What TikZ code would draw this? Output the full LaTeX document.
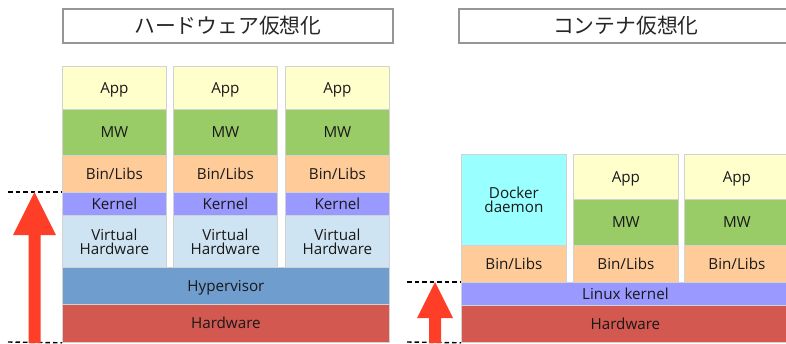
\documentclass[tikz,border=0pt]{standalone}
\usepackage{fontspec}
\setmainfont{Open Sans}
\newfontfamily\jpfont{Noto Sans CJK JP}
\definecolor{appc}{RGB}{255,255,204}
\definecolor{mwc}{RGB}{153,204,102}
\definecolor{binc}{RGB}{255,204,153}
\definecolor{kerc}{RGB}{153,153,255}
\definecolor{vhwc}{RGB}{207,228,242}
\definecolor{hypc}{RGB}{111,158,206}
\definecolor{hwc}{RGB}{210,88,80}
\definecolor{dockc}{RGB}{153,255,255}
\definecolor{arrc}{RGB}{255,62,40}
\definecolor{bordc}{RGB}{210,210,210}
\definecolor{titlebord}{RGB}{150,150,150}
\definecolor{txtc}{RGB}{25,25,25}
\tikzset{
  layer/.style={draw=bordc, line width=0.8pt, inner sep=0pt, align=center,
    anchor=north west, text=txtc, font=\fontsize{15.2}{14}\selectfont},
  oneline/.style={text height=11pt, text depth=0pt},
  titlebox/.style={draw=titlebord, line width=1.6pt, inner sep=0pt, anchor=north west,
    font=\jpfont\fontsize{20.8}{21}\selectfont, text=black!85},
  dashline/.style={line width=1.4pt, dash pattern=on 4.5pt off 3pt},
  bigarrow/.style={fill=arrc, draw=none}
}
% name, style, x1, y1, x2, y2, text
\newcommand\lyr[7]{%
  \pgfmathsetmacro\lw{#5-#3}\pgfmathsetmacro\lh{#6-#4}%
  \node[#2, minimum width=\lw pt, minimum height=\lh pt] (#1) at (#3,#4) {#7};}
\begin{document}
\begin{tikzpicture}[x=1pt,y=-1pt]
\useasboundingbox (0,0) rectangle (786,343);
% titles
\lyr{t1}{titlebox}{62}{8}{392}{42}{ハードウェア仮想化}
\lyr{t2}{titlebox}{458}{8}{792}{42}{コンテナ仮想化}
% left columns
\foreach \i/\xa/\xb in {1/62/166, 2/173/277, 3/285/389}{
  \lyr{app\i}{layer,oneline,fill=appc}{\xa}{66}{\xb}{109}{App}
  \lyr{mw\i}{layer,oneline,fill=mwc}{\xa}{109}{\xb}{155}{MW}
  \lyr{bin\i}{layer,oneline,fill=binc}{\xa}{155}{\xb}{192}{Bin/Libs}
  \lyr{ker\i}{layer,oneline,fill=kerc}{\xa}{192}{\xb}{215}{Kernel}
  \lyr{vhw\i}{layer,fill=vhwc}{\xa}{215}{\xb}{267}{Virtual\\Hardware}
}
\lyr{hyp}{layer,oneline,fill=hypc}{62}{267}{389}{304}{Hypervisor}
\lyr{hw1}{layer,oneline,fill=hwc}{62}{304}{389}{342}{Hardware}
% right side
\lyr{dock}{layer,fill=dockc}{461}{154}{566}{245}{Docker\\daemon}
\lyr{rbin1}{layer,oneline,fill=binc}{461}{245}{566}{282}{Bin/Libs}
\foreach \i/\xa/\xb in {2/573/678, 3/684/789}{
  \lyr{rapp\i}{layer,oneline,fill=appc}{\xa}{154}{\xb}{199}{App}
  \lyr{rmw\i}{layer,oneline,fill=mwc}{\xa}{199}{\xb}{245}{MW}
  \lyr{rbin\i}{layer,oneline,fill=binc}{\xa}{245}{\xb}{282}{Bin/Libs}
}
\lyr{lk}{layer,oneline,fill=kerc}{461}{282}{789}{305}{Linux kernel}
\lyr{hw2}{layer,oneline,fill=hwc}{461}{305}{789}{342}{Hardware}
% left dashed lines and arrow
\coordinate (d1a) at (8,192);
\coordinate (d2a) at (8,342);
\draw[dashline] (d1a) -- (ker1.north west);
\draw[dashline] (d2a) -- (hw1.south west);
\fill[bigarrow] (28.5,343) -- (28.5,235) -- (13,235) -- (34.5,192) -- (56,235) -- (40.5,235) -- (40.5,343) -- cycle;
% right dashed lines and arrow
\coordinate (d3a) at (407,282);
\coordinate (d4a) at (407,342);
\draw[dashline] (d3a) -- (lk.north west);
\draw[dashline] (d4a) -- (hw2.south west);
\fill[bigarrow] (429,343) -- (429,318) -- (417,318) -- (435,282) -- (453,318) -- (441,318) -- (441,343) -- cycle;
\end{tikzpicture}
\end{document}
